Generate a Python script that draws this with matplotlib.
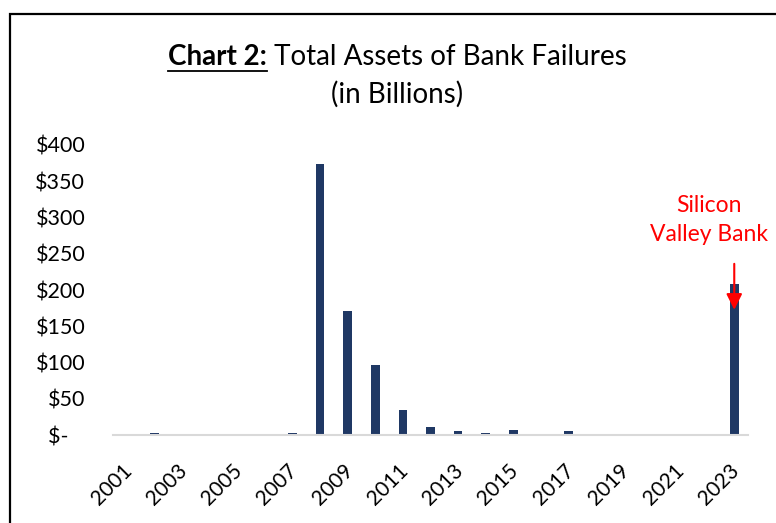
import matplotlib
matplotlib.use("Agg")
import matplotlib.pyplot as plt
import matplotlib.transforms as mtransforms
from matplotlib.patches import Rectangle
from matplotlib.lines import Line2D

plt.rcParams['font.family'] = ['Lato', 'DejaVu Sans']

years = list(range(2001, 2024))
assets = [1.5, 2.5, 0, 0, 0, 0, 2.6, 374, 171, 96, 35, 11.5, 6, 2.5, 6.5,
          0.3, 5.6, 0, 0.2, 0.4, 0, 0, 209]
yticks = [0, 50, 100, 150, 200, 250, 300, 350, 400]
ytick_labels = ['$-   ', '$50', '$100', '$150', '$200', '$250', '$300', '$350', '$400']
xtick_years = years[::2]

BAR_COLOR = '#1f3864'

fig = plt.figure(figsize=(7.76, 5.23), dpi=100)
ax = fig.add_axes([0.1456, 0.168, 0.964 - 0.1456, 0.7228 - 0.168])

ax.bar(years, assets, width=0.31, color=BAR_COLOR)
ax.set_xlim(2000.5, 2023.5)
ax.set_ylim(0, 400)
ax.set_yticks(yticks)
ax.set_yticklabels(ytick_labels, fontsize=15.5)
ax.set_xticks(xtick_years)
ax.set_xticklabels([str(y) for y in xtick_years], fontsize=15, rotation=45,
                   ha='right', rotation_mode='anchor')
ax.tick_params(axis='both', length=0)
ax.tick_params(axis='y', pad=20)
ax.tick_params(axis='x', pad=18)
shift = mtransforms.ScaledTranslation(-5 / 100, 0, fig.dpi_scale_trans)
for lbl in ax.get_xticklabels():
    lbl.set_transform(lbl.get_transform() + shift)
for s in ['top', 'right', 'left']:
    ax.spines[s].set_visible(False)
ax.spines['bottom'].set_color('#d9d9d9')
ax.spines['bottom'].set_linewidth(1.5)

# annotation for SVB
ax.annotate('', xy=(2023, 169), xytext=(2023, 240),
            arrowprops=dict(arrowstyle='-|>', color='red', lw=1.5,
                            mutation_scale=24))
ax.text(2022.1, 297, 'Silicon\nValley Bank', color='red', fontsize=16.5,
        ha='center', va='center', linespacing=1.45)

# outer frame (cut off at right and bottom)
fig.patches.append(Rectangle((10 / 776, -0.05), 1.2, 1 - 14 / 523 + 0.05,
                             transform=fig.transFigure, fill=False,
                             edgecolor='black', lw=1.6))

# title with bold underlined prefix
fig.canvas.draw()
r = fig.canvas.get_renderer()
t1 = fig.text(0, 1 - 57 / 523, 'Chart 2:', fontsize=20, fontweight='bold',
              va='center', ha='left')
t2 = fig.text(0, 1 - 57 / 523, ' Total Assets of Bank Failures', fontsize=20,
              va='center', ha='left')
w1 = t1.get_window_extent(r).width / fig.bbox.width
w2 = t2.get_window_extent(r).width / fig.bbox.width
x0 = 0.512 - (w1 + w2) / 2
t1.set_x(x0)
t2.set_x(x0 + w1)
bb = t1.get_window_extent(r)
uy = (bb.y0 - 1) / fig.bbox.height
fig.add_artist(Line2D([x0, x0 + w1], [uy, uy], color='black', lw=1.3,
                      transform=fig.transFigure))
fig.text(0.512, 1 - 94 / 523, '(in Billions)', fontsize=20, ha='center',
         va='center')

fig.savefig('out.png', dpi=100)
